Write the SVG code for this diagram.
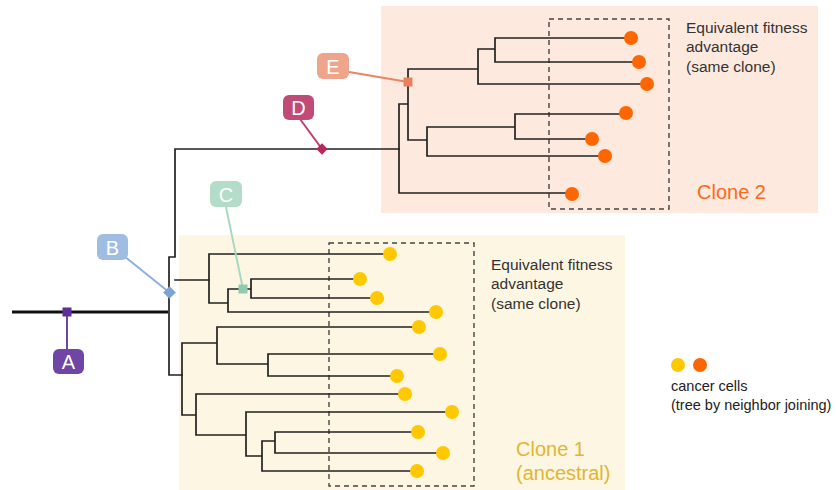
<svg xmlns="http://www.w3.org/2000/svg" width="836" height="490" viewBox="0 0 836 490">
  <style>
    .branch { fill: none; stroke: #222; stroke-width: 1.7; stroke-linecap: square; }
    .root { fill: none; stroke: #111; stroke-width: 3; }
    .dash { fill: none; stroke: #444; stroke-width: 1.4; stroke-dasharray: 5 4; }
    .lead { fill: none; stroke-width: 2; }
    .note { font-family: "Liberation Sans", Arial, sans-serif; font-size: 15.5px; fill: #333; }
    .legend { font-family: "Liberation Sans", Arial, sans-serif; font-size: 14.5px; fill: #222; }
    .clone { font-family: "Liberation Sans", Arial, sans-serif; font-size: 20px; }
    .tag { font-family: "Liberation Sans", Arial, sans-serif; font-size: 20px; fill: #fff; text-anchor: middle; }
    .c1 { fill: #ffc800; }
    .c2 { fill: #ff6600; }
  </style>

  <!-- clone backgrounds -->
  <rect id="clone2-bg" x="381" y="6" width="437" height="207" fill="#fde9dd"/>
  <rect id="clone1-bg" x="179" y="235" width="446" height="255" fill="#fdf6e2"/>

  <!-- dashed groupings of cells with equal fitness -->
  <rect x="549" y="19" width="120" height="190" class="dash"/>
  <rect x="329" y="243" width="145" height="243" class="dash"/>

  <g id="connectors">
    <!-- trunk -->
    <path class="root" d="M12 312 H168"/>
    <path class="branch" d="M169 257 V375 M169 257 H175 V149 M175 280 H209 M175 149 H399 M169 375 H182"/>
    <!-- clone 2 subtree -->
    <path class="branch" d="M399 104 V193 M399 193 H572 M399 104 H408 M408 69 V140
      M408 69 H478 M478 49 V84 M478 84 H647 M478 49 H495 M495 38 V62 M495 38 H631 M495 62 H639
      M408 140 H427 M427 127 V156 M427 156 H605 M427 127 H515 M515 114 V139 M515 114 H626 M515 139 H592"/>
    <!-- clone 1 subtree, upper part -->
    <path class="branch" d="M209 254 V303 M209 254 H390 M209 303 H228 M228 289 V312 M228 312 H436
      M228 289 H251 M251 279 V298 M251 279 H360 M251 298 H377"/>
    <!-- clone 1 subtree, lower part -->
    <path class="branch" d="M182 343 V415 M182 343 H217 M217 327 V364 M217 327 H419 M217 364 H268
      M268 354 V376 M268 354 H440 M268 376 H397
      M182 415 H196 M196 394 V435 M196 394 H405 M196 435 H246 M246 412 V456 M246 412 H452
      M246 456 H262 M262 441 V471 M262 471 H417 M262 441 H275 M275 432 V453 M275 432 H418 M275 453 H443"/>

    <!-- event callout leaders -->
    <path class="lead" d="M67 312 V350" stroke="#6f45a5"/>
    <path class="lead" d="M124 256 L170 293" stroke="#8fb0dc"/>
    <path class="lead" d="M226 207 L243 289" stroke="#a9d8c2"/>
    <path class="lead" d="M300 119 L322 149" stroke="#c23d6c"/>
    <path class="lead" d="M349 72 L408 82" stroke="#ec8463"/>
  </g>

  <!-- clone 2 cells -->
  <g id="clone2-cells">
    <circle class="c2" cx="631" cy="38" r="7"/>
    <circle class="c2" cx="639" cy="62" r="7"/>
    <circle class="c2" cx="647" cy="84" r="7"/>
    <circle class="c2" cx="626" cy="113" r="7"/>
    <circle class="c2" cx="592" cy="139" r="7"/>
    <circle class="c2" cx="605" cy="156" r="7"/>
    <circle class="c2" cx="572" cy="194" r="7"/>
  </g>

  <!-- clone 1 cells -->
  <g id="clone1-cells">
    <circle class="c1" cx="390" cy="254" r="7"/>
    <circle class="c1" cx="360" cy="279" r="7"/>
    <circle class="c1" cx="377" cy="298" r="7"/>
    <circle class="c1" cx="436" cy="312" r="7"/>
    <circle class="c1" cx="419" cy="327" r="7"/>
    <circle class="c1" cx="440" cy="354" r="7"/>
    <circle class="c1" cx="397" cy="376" r="7"/>
    <circle class="c1" cx="405" cy="394" r="7"/>
    <circle class="c1" cx="452" cy="412" r="7"/>
    <circle class="c1" cx="418" cy="432" r="7"/>
    <circle class="c1" cx="443" cy="453" r="7"/>
    <circle class="c1" cx="417" cy="471" r="7"/>
  </g>

  <!-- mutation events -->
  <g id="event-A">
    <rect x="62.5" y="307.5" width="9" height="9" fill="#5e2f96"/>
    <rect x="53" y="349" width="31" height="25" rx="6" fill="#6f45a5"/>
    <text class="tag" x="68.5" y="369">A</text>
  </g>
  <g id="event-B">
    <rect x="165" y="288" width="9" height="9" fill="#7aa3d6" transform="rotate(45 169.5 292.5)"/>
    <rect x="97" y="234" width="31" height="26" rx="6" fill="#9fbde2"/>
    <text class="tag" x="112.5" y="254.5">B</text>
  </g>
  <g id="event-C">
    <rect x="238.5" y="284.5" width="9" height="9" fill="#8fcbb0"/>
    <rect x="210" y="181" width="32" height="26" rx="6" fill="#b3dcc9"/>
    <text class="tag" x="226" y="201.5">C</text>
  </g>
  <g id="event-D">
    <rect x="318" y="145" width="8" height="8" fill="#b8285e" transform="rotate(45 322 149)"/>
    <rect x="283" y="95" width="31" height="25" rx="6" fill="#c24a76"/>
    <text class="tag" x="298.5" y="115">D</text>
  </g>
  <g id="event-E">
    <rect x="403.5" y="77.5" width="9" height="9" fill="#e9805f"/>
    <rect x="317" y="53" width="32" height="26" rx="6" fill="#eea58b"/>
    <text class="tag" x="333" y="73.5">E</text>
  </g>

  <!-- annotations -->
  <g id="note-clone2">
    <text class="note" x="686" y="33">Equivalent fitness</text>
    <text class="note" x="686" y="52">advantage</text>
    <text class="note" x="686" y="72">(same clone)</text>
    <text class="clone" x="697" y="199" fill="#fb6a1a">Clone 2</text>
  </g>
  <g id="note-clone1">
    <text class="note" x="491" y="270">Equivalent fitness</text>
    <text class="note" x="491" y="289">advantage</text>
    <text class="note" x="491" y="309">(same clone)</text>
    <text class="clone" x="516" y="456" fill="#e3b531">Clone 1</text>
    <text class="clone" x="516" y="480" fill="#e3b531">(ancestral)</text>
  </g>

  <g id="legend">
    <circle class="c1" cx="678" cy="365" r="7"/>
    <circle class="c2" cx="700" cy="365" r="7"/>
    <text class="legend" x="671" y="391">cancer cells</text>
    <text class="legend" x="671" y="410">(tree by neighbor joining)</text>
  </g>
</svg>
